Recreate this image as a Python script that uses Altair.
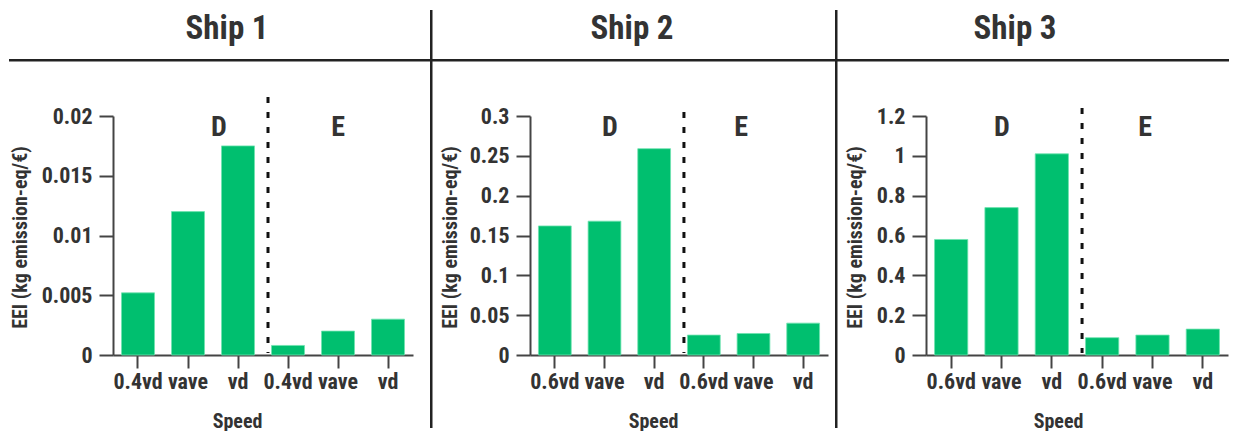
import altair as alt
import pandas as pd

# ---------------- data ----------------
ships = ["Ship 1", "Ship 2", "Ship 3"]
groups = ["D", "E"]
speeds_ship1 = ["0.4vd", "vave", "vd"]
speeds_ship2 = ["0.6vd", "vave", "vd"]
speeds_ship3 = ["0.6vd", "vave", "vd"]

ship1_D = [0.0052, 0.0120, 0.0175]
ship1_E = [0.0008, 0.0020, 0.0030]
ship2_D = [0.162, 0.168, 0.259]
ship2_E = [0.025, 0.027, 0.040]
ship3_D = [0.58, 0.74, 1.01]
ship3_E = [0.087, 0.100, 0.130]

ship1_ticks = [0, 0.005, 0.01, 0.015, 0.02]
ship2_ticks = [0, 0.05, 0.1, 0.15, 0.2, 0.25, 0.3]
ship3_ticks = [0, 0.2, 0.4, 0.6, 0.8, 1.0, 1.2]

y_title = "EEI (kg emission-eq/€)"
x_title = "Speed"

FONT = "Roboto Condensed, Roboto, sans-serif"
TXT = "#333333"
GREEN = "#00BF6F"
H = 239

panels = [
    dict(title="Ship 1", speeds=speeds_ship1, D=ship1_D, E=ship1_E, ticks=ship1_ticks,
         width=300, title_x=114, ytitle_x=-93, xtitle_x=124,
         left=-104, right=317, divider_vis=0, dash_top=-19, d_x=106, e_x=225),
    dict(title="Ship 2", speeds=speeds_ship2, D=ship2_D, E=ship2_E, ticks=ship2_ticks,
         width=298, title_x=102, ytitle_x=-80, xtitle_x=123,
         left=-100, right=305, divider_vis=1, dash_top=-4, d_x=80, e_x=211),
    dict(title="Ship 3", speeds=speeds_ship3, D=ship3_D, E=ship3_E, ticks=ship3_ticks,
         width=302, title_x=89, ytitle_x=-71, xtitle_x=132,
         left=-91, right=303, divider_vis=1, dash_top=-8, d_x=76, e_x=219),
]


def make_panel(p):
    cats = [f"{g}|{s}" for g in groups for s in p["speeds"]]
    vals = list(p["D"]) + list(p["E"])
    df = pd.DataFrame({"cat": cats, "value": vals})
    one = pd.DataFrame({"k": [0]})

    x_enc = alt.X(
        "cat:N", sort=cats,
        scale=alt.Scale(paddingInner=0.34, paddingOuter=0.17),
        axis=alt.Axis(
            title=x_title, labelExpr="split(datum.label, '|')[1]", labelAngle=0,
            titleX=p["xtitle_x"], titleY=66, titleBaseline="middle", titleAlign="center",
        ),
    )
    y_enc = alt.Y(
        "value:Q",
        scale=alt.Scale(domain=[0, p["ticks"][-1]], nice=False, zero=True),
        axis=alt.Axis(
            title=y_title, values=p["ticks"], format="~g", grid=False,
            tickSize=14, labelPadding=7,
            titleX=p["ytitle_x"], titleY=121, titleBaseline="middle", titleAlign="center",
        ),
    )

    bars = alt.Chart(df).mark_bar(
        color=GREEN, stroke="#6FE3B0", strokeWidth=0.8
    ).encode(x=x_enc, y=y_enc)

    dash = alt.Chart(pd.DataFrame({"cat": [f"E|{p['speeds'][0]}"]})).mark_rule(
        color="#111111", strokeWidth=3, strokeDash=[6, 9], xOffset=-3.5
    ).encode(
        x=alt.X("cat:N", sort=cats, bandPosition=0),
        y=alt.value(p["dash_top"]), y2=alt.value(H - 2),
    )

    lab = pd.DataFrame({"g": groups, "px": [p["d_x"], p["e_x"]]})
    letters = alt.Chart(lab).mark_text(
        font=FONT, fontSize=28, fontWeight="bold", color=TXT, baseline="middle", align="center"
    ).encode(x=alt.X("px:Q", scale=None), y=alt.value(12), text="g:N")

    title = alt.Chart(pd.DataFrame({"t": [p["title"]]})).mark_text(
        font=FONT, fontSize=33, fontWeight="bold", color=TXT, baseline="alphabetic", align="center"
    ).encode(x=alt.value(p["title_x"]), y=alt.value(-77), text="t:N")

    header = alt.Chart(one).mark_rect(color="#222222").encode(
        x=alt.value(p["left"]), x2=alt.value(p["right"]),
        y=alt.value(-57), y2=alt.value(-54.5),
    )
    divider = alt.Chart(one).mark_rect(color="#222222", opacity=p["divider_vis"]).encode(
        x=alt.value(p["left"]), x2=alt.value(p["left"] + 2.5),
        y=alt.value(-106), y2=alt.value(312),
    )

    return alt.layer(bars, dash, letters, title, header, divider).properties(
        width=p["width"], height=H,
    )


chart = alt.hconcat(*[make_panel(p) for p in panels], spacing=0, bounds="full").properties(
    padding={"left": 1, "top": 2, "right": 0, "bottom": 0}
).configure_view(stroke=None).configure_axis(
    domainColor="#444444", domainWidth=2, tickColor="#444444", tickWidth=2, tickSize=13,
    labelFont=FONT, labelFontSize=22, labelFontWeight="bold", labelColor=TXT, labelPadding=4,
    titleFont=FONT, titleFontSize=20, titleFontWeight="bold", titleColor=TXT,
).configure_axisX(tickSize=13, labelPadding=3)

chart.save("out.html", embed_options={"renderer": "svg", "actions": False})
